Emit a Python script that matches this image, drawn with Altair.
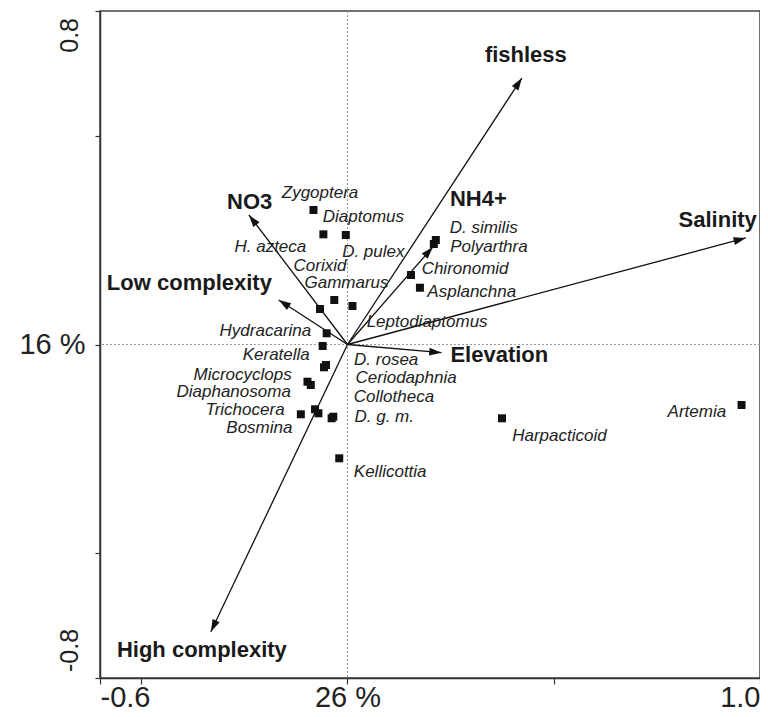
import altair as alt
import pandas as pd

# Species scores (squares) and their label anchors
species = ["Zygoptera", "Diaptomus", "H. azteca", "D. pulex", "Corixid", "Gammarus",
           "Hydracarina", "Keratella", "Microcyclops", "Diaphanosoma", "Trichocera", "Bosmina",
           "D. rosea", "Ceriodaphnia", "Collotheca", "D. g. m.", "Kellicottia", "Leptodiaptomus",
           "D. similis", "Polyarthra", "Chironomid", "Asplanchna", "Harpacticoid", "Artemia"]
score_x = [-0.0825, -0.0041, -0.0585, 0.0120, -0.0320, -0.0667,
           -0.0505, -0.0602, -0.0970, -0.0890, -0.1131, -0.0787,
           -0.0570, -0.0522, -0.0705, -0.0385, -0.0200, -0.0344,
           0.2141, 0.2093, 0.1540, 0.1756, 0.3746, 0.9553]
score_y = [0.3226, 0.2627, 0.2643, 0.0924, 0.1067, 0.0852,
           0.0269, -0.0036, -0.0892, -0.0971, -0.1674, -0.1554,
           -0.0547, -0.0492, -0.1650, -0.1770, -0.2730, -0.1732,
           0.2507, 0.2411, 0.1667, 0.1362, -0.1770, -0.1451]
label_x = [-0.0666, 0.0385, -0.1870, 0.0626, -0.0666, -0.0024,
           -0.1990, -0.1728, -0.2543, -0.2760, -0.2483, -0.2137,
           0.0938, 0.1420, 0.1126, 0.0890, 0.1035, 0.1930,
           0.3301, 0.3429, 0.2851, 0.3013, 0.5137, 0.8470]
label_y = [0.3641, 0.3065, 0.2346, 0.2226, 0.1886, 0.1486,
           0.0331, -0.0240, -0.0720, -0.1139, -0.1583, -0.2003,
           -0.0372, -0.0811, -0.1252, -0.1746, -0.3051, 0.0547,
           0.2802, 0.2331, 0.1804, 0.1266, -0.2195, -0.1612]

# Environmental variables (arrows)
env = ["fishless", "Salinity", "NH4+", "Elevation", "NO3", "Low complexity", "High complexity"]
env_x = [0.4228, 0.9656, 0.2069, 0.2279, -0.2389, -0.1667, -0.3313]
env_y = [0.6392, 0.2555, 0.2339, -0.0197, 0.3106, 0.1067, -0.6889]
env_lx = [0.4324, 0.8975, 0.3172, 0.3681, -0.2370, -0.3833, -0.3530]
env_ly = [0.6944, 0.2986, 0.3490, -0.0252, 0.3425, 0.1468, -0.7328]

x_ticks = [-0.6, -0.5, 0.0, 0.5, 1.0]
y_ticks = [-0.8, -0.5, 0.0, 0.5, 0.8]
y_top_label = "0.8"
y_bottom_label = "-0.8"

sp = pd.DataFrame({"species": species, "x": score_x, "y": score_y, "lx": label_x, "ly": label_y})
ev = pd.DataFrame({"var": env, "x": env_x, "y": env_y, "lx": env_lx, "ly": env_ly})
ev["x0"] = 0.0
ev["y0"] = 0.0

FONT = "Liberation Sans"
XS = alt.Scale(domain=[-0.6, 1.0], nice=False, zero=False)
YS = alt.Scale(domain=[-0.8, 0.8], nice=False, zero=False)

xaxis = alt.Axis(
    values=x_ticks, title=None, grid=False, labelOverlap=False, labelFlush=True,
    labelExpr="datum.value == 0 ? '26 %' : datum.value < -0.55 ? '-0.6' : datum.value > 0.95 ? '1.0' : ''",
    labelFont=FONT, labelFontSize=29, labelColor="#222",
    tickSize=6, labelPadding=-1, tickColor="#333", domainColor="#333", domainWidth=1.5, tickWidth=1.2,
)
yaxis = alt.Axis(
    values=y_ticks, title=None, grid=False, labelOverlap=False, labelFlush=False,
    labelExpr="datum.value == 0 ? '16 %' : ''",
    labelFont=FONT, labelFontSize=29, labelColor="#222",
    tickSize=5, labelPadding=10, tickColor="#333", domainColor="#333", domainWidth=1.5, tickWidth=1.2,
)

zero_v = alt.Chart(pd.DataFrame({"x": [0.0]})).mark_rule(
    color="#999", strokeDash=[2, 2], strokeWidth=1
).encode(x=alt.X("x:Q", scale=XS, axis=xaxis))

zero_h = alt.Chart(pd.DataFrame({"y": [0.0]})).mark_rule(
    color="#999", strokeDash=[2, 2], strokeWidth=1
).encode(y=alt.Y("y:Q", scale=YS, axis=yaxis))

arrows = alt.Chart(ev).mark_rule(color="#111", strokeWidth=1.3).encode(
    x=alt.X("x0:Q", scale=XS, axis=xaxis),
    y=alt.Y("y0:Q", scale=YS, axis=yaxis),
    x2="x:Q", y2="y:Q",
)

heads = alt.Chart(ev).transform_calculate(
    ang="(atan2(datum.x, datum.y) * 180 / PI + 360) % 360"
).mark_point(
    shape="M0,0L-0.32,1L0.32,1Z", size=600, filled=True, color="#111", opacity=1, strokeWidth=0
).encode(
    x=alt.X("x:Q", scale=XS, axis=xaxis),
    y=alt.Y("y:Q", scale=YS, axis=yaxis),
    angle=alt.Angle("ang:Q", scale=None),
)

squares = alt.Chart(sp).mark_square(size=64, color="#111", opacity=1).encode(
    x=alt.X("x:Q", scale=XS, axis=xaxis),
    y=alt.Y("y:Q", scale=YS, axis=yaxis),
)

sp_text = alt.Chart(sp).mark_text(
    font=FONT, fontStyle="italic", fontSize=17, color="#222", align="center", baseline="middle"
).encode(
    x=alt.X("lx:Q", scale=XS, axis=xaxis),
    y=alt.Y("ly:Q", scale=YS, axis=yaxis),
    text="species:N",
)

env_text = alt.Chart(ev).mark_text(
    font=FONT, fontWeight="bold", fontSize=22, color="#1a1a1a", align="center", baseline="middle"
).encode(
    x=alt.X("lx:Q", scale=XS, axis=xaxis),
    y=alt.Y("ly:Q", scale=YS, axis=yaxis),
    text="var:N",
)

# rotated end labels of the vertical axis
ytop = alt.Chart(pd.DataFrame({"x": [x_ticks[0]], "y": [y_ticks[-1]], "t": [y_top_label]})).mark_text(
    font=FONT, fontSize=25, color="#222", angle=270, align="right", baseline="alphabetic", dx=-7, dy=-22
).encode(
    x=alt.X("x:Q", scale=XS, axis=xaxis),
    y=alt.Y("y:Q", scale=YS, axis=yaxis),
    text="t:N",
)
ybot = alt.Chart(pd.DataFrame({"x": [x_ticks[0]], "y": [y_ticks[0]], "t": [y_bottom_label]})).mark_text(
    font=FONT, fontSize=25, color="#222", angle=270, align="left", baseline="alphabetic", dx=6, dy=-22
).encode(
    x=alt.X("x:Q", scale=XS, axis=xaxis),
    y=alt.Y("y:Q", scale=YS, axis=yaxis),
    text="t:N",
)

chart = alt.layer(zero_v, zero_h, arrows, heads, squares, sp_text, env_text, ytop, ybot).properties(
    width=660, height=667,
    padding={"left": 92, "top": 3, "right": 0, "bottom": 37},
    autosize=alt.AutoSizeParams(type="none"),
).configure_view(stroke="#444", strokeWidth=1.5)

chart.save("out.html", embed_options={"renderer": "svg", "actions": False})
